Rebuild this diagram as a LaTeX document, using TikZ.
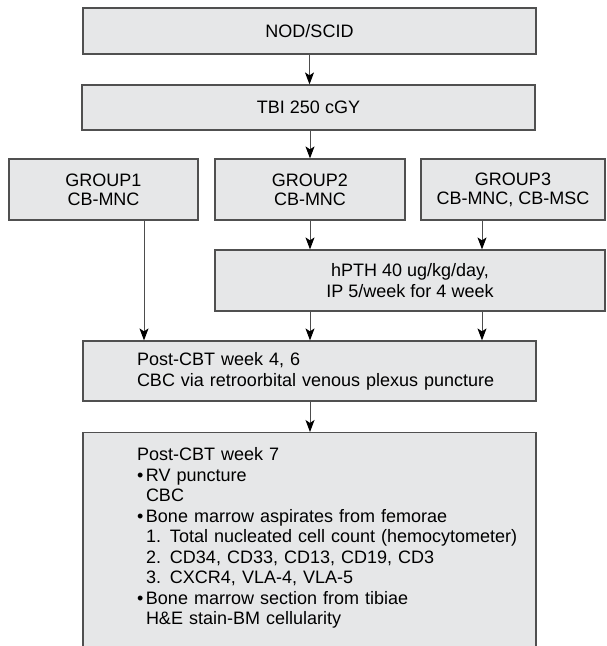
\documentclass[tikz,border=0pt]{standalone}
\usepackage{fontspec}
\setmainfont{Liberation Sans}
\usetikzlibrary{arrows.meta}
\definecolor{boxfill}{HTML}{E6E7E8}
\definecolor{boxline}{HTML}{505050}
\definecolor{linkgray}{HTML}{4D4D4D}
\newcommand{\bulletmark}{\makebox[9pt][l]{\textbullet}}
\newcommand{\subindent}{\hspace*{9pt}}

\begin{document}
\begin{tikzpicture}[x=1pt, y=-1pt,
  >={Stealth[length=12pt,width=9pt,inset=3pt,color=black]},
  stagebox/.style={draw=boxline, fill=boxfill, line width=1.2pt, inner sep=0pt,
    align=center, font=\fontsize{18}{19}\selectfont},
  leftbox/.style={stagebox, align=left, text width=453pt,
    execute at begin node={\leftskip=54pt\relax}},
  flow/.style={->, draw=linkgray, line width=1pt}]
\useasboundingbox (0,0) rectangle (606,646);
\clip (0,0) rectangle (606,646);

\node[stagebox, minimum width=453pt, minimum height=46pt] (nod) at (309.5,31) {NOD/SCID};
\node[stagebox, minimum width=453pt, minimum height=45pt] (tbi) at (308.5,107.5) {TBI 250 cGY};
\node[stagebox, minimum width=189pt, minimum height=61pt] (g1) at (103.5,189.5) {GROUP1\\CB-MNC};
\node[stagebox, minimum width=190pt, minimum height=61pt] (g2) at (310,189.5) {GROUP2\\CB-MNC};
\node[stagebox, minimum width=184pt, minimum height=61pt] (g3) at (513,189.5) {GROUP3\\CB-MNC, CB-MSC};
\node[stagebox, minimum width=390pt, minimum height=61pt, font=\fontsize{18}{21}\selectfont]
  (hpth) at (410,280.5) {hPTH 40 ug/kg/day,\\IP 5/week for 4 week};
\node[leftbox, minimum height=60pt, font=\fontsize{18}{21}\selectfont] (post) at (309.5,371)
  {Post-CBT week 4, 6\\CBC via retroorbital venous plexus puncture};
\node[leftbox, anchor=north, inner ysep=15pt, text depth=190pt, font=\fontsize{18}{20.5}\selectfont]
  (final) at (309.5,432)
  {Post-CBT week 7\\
   \bulletmark RV puncture\\
   \subindent CBC\\
   \bulletmark Bone marrow aspirates from femorae\\
   \subindent 1. Total nucleated cell count (hemocytometer)\\
   \subindent 2. CD34, CD33, CD13, CD19, CD3\\
   \subindent 3. CXCR4, VLA-4, VLA-5\\
   \bulletmark Bone marrow section from tibiae\\
   \subindent H\&E stain-BM cellularity};

% lanes for the arrows off the box centres
\coordinate (lane1) at (144,0);
\coordinate (lane3) at (482,0);

\draw[flow] (nod.south) -- (nod.south |- tbi.north);
\draw[flow] (tbi.south -| g2.north) -- (g2.north);
\draw[flow] (lane1 |- g1.south) -- (lane1 |- post.north);
\foreach \lane/\from in {g2/g2, lane3/g3}
  \draw[flow] (\lane |- \from.south) -- (\lane |- hpth.north);
\foreach \lane in {g2, lane3}
  \draw[flow] (\lane |- hpth.south) -- (\lane |- post.north);
\draw[flow] (post.south -| g2) -- (final.north -| g2);

\end{tikzpicture}
\end{document}
